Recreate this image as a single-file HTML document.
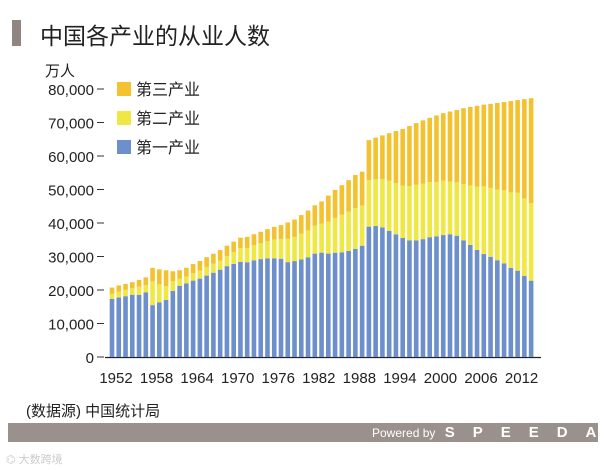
<!DOCTYPE html>
<html><head><meta charset="utf-8">
<style>
body{margin:0;background:#fff;width:604px;height:470px;overflow:hidden;position:relative;font-family:"Liberation Sans","Noto Sans CJK SC",sans-serif;}
.abs{position:absolute;}
</style></head>
<body>
<div class="abs" style="left:12px;top:20px;width:9px;height:26px;background:#8f8682;"></div>
<div class="abs" style="left:40px;top:17px;font-size:23px;color:#222;">中国各产业的从业人数</div>
<svg class="abs" style="left:0;top:0" width="604" height="470">
<text x="45" y="76" font-size="15" fill="#222" font-family="Liberation Sans, Noto Sans CJK SC, sans-serif">万人</text>
<g id="axes"></g><g id="bars"></g><g id="legend"></g>
</svg>
<div class="abs" style="left:26px;top:400px;font-size:15px;color:#222;">(数据源) 中国统计局</div>
<div class="abs" style="left:8px;top:423px;width:590px;height:19px;background:#9a908c;"></div>
<div class="abs" style="left:372px;top:424px;font-size:12px;color:#fff;white-space:nowrap;">Powered by <b style="letter-spacing:18px;font-size:15px;margin-left:6px;">SPEEDA</b></div>
<div class="abs" style="left:6px;top:451px;font-size:11px;color:#ccc;">⌬ 大数跨境</div>
<script>
const years=[];for(let y=1952;y<=2014;y++)years.push(y);
const primary=[17317,17747,18151,18592,18544,19309,15490,16271,17016,19747,21276,21966,22803,23396,24297,25165,26063,27117,27811,28397,28283,28857,29218,29456,29443,29340,28318,28634,29122,29777,30859,31151,30868,31130,31254,31663,32249,33225,38914,39098,38699,37680,36628,35530,34820,34840,35177,35768,36043,36399,36640,36204,34830,33442,31941,30731,29923,28890,27931,26594,25773,24171,22790];
const secondary=[1531,1715,1882,1913,2468,2142,7076,5402,4112,2856,2059,2038,2183,2408,2600,2661,2743,3030,3518,4112,4276,4492,4712,5152,5611,5831,6945,7214,7707,8003,8346,8679,9590,10384,11216,11726,12152,11976,13856,14015,14355,14965,15312,15655,16203,16547,16600,16421,16219,16234,15682,15927,16709,17766,18894,20186,20553,21080,21842,22544,23241,23170,23099];
const tertiary=[1881,1902,1799,1823,2006,2320,4034,4500,4752,2987,2575,2636,2750,2866,2908,2988,3109,3078,3103,3111,3295,3303,3439,3560,3780,4206,4889,5176,5532,5945,6090,6606,7739,8359,8812,9394,9933,10128,11979,12378,13098,14163,15515,16880,17927,18433,18860,19205,19823,20164,20958,21605,22725,23439,24143,24404,25088,25858,26332,27282,27690,29636,31364];
const yTicks=[0,10000,20000,30000,40000,50000,60000,70000,80000];
const xLabels=[1952,1958,1964,1970,1976,1982,1988,1994,2000,2006,2012];
const colors=["#6d8fcb","#efe844","#f4c22e"];
const seriesNames=["第一产业","第二产业","第三产业"];
const NS="http://www.w3.org/2000/svg";
const y=v=>357-v*(268/80000);
const x=yr=>112+(yr-1952)*6.76;
function mk(tag,attrs,parent){const e=document.createElementNS(NS,tag);for(const k in attrs)e.setAttribute(k,attrs[k]);parent.appendChild(e);return e;}
const axes=document.getElementById('axes'),bars=document.getElementById('bars'),legend=document.getElementById('legend');
yTicks.forEach(t=>{
  const l=mk('line',{x1:97,x2:104,y1:y(t),y2:y(t),stroke:'#333','stroke-width':1},axes);
  
  
  const tx=mk('text',{x:94,y:y(t)+6,'text-anchor':'end','font-size':15,fill:'#222','font-family':'Liberation Sans, sans-serif'},axes);
  tx.textContent=t.toLocaleString('en-US');
  
  
});
xLabels.forEach(yr=>{
  const tx=mk('text',{x:x(yr)+4,y:383,'text-anchor':'middle','font-size':15,fill:'#222','font-family':'Liberation Sans, sans-serif'},axes);
  tx.textContent=yr;
  
  
});
years.forEach((yr,i)=>{
  let base=0;
  [primary[i],secondary[i],tertiary[i]].forEach((v,s)=>{
    const r=mk('rect',{x:x(yr)-2.3,width:4.6,y:y(base+v),height:y(base)-y(base+v),fill:colors[s]},bars);
    
    
    base+=v;
  });
});
const ax=mk('line',{x1:105,x2:541,y1:357.5,y2:357.5,stroke:'#222','stroke-width':1.2},axes);


[2,1,0].forEach((s,k)=>{
  const cy=89+k*29;
  const r=mk('rect',{x:117,y:cy-7,width:14,height:14,fill:colors[s]},legend);
  
  
  const t=mk('text',{x:136,y:cy+6,'font-size':16,fill:'#222','font-family':'Liberation Sans, Noto Sans CJK SC, sans-serif'},legend);
  t.textContent=seriesNames[s];
  
  
});
</script>
</body></html>
